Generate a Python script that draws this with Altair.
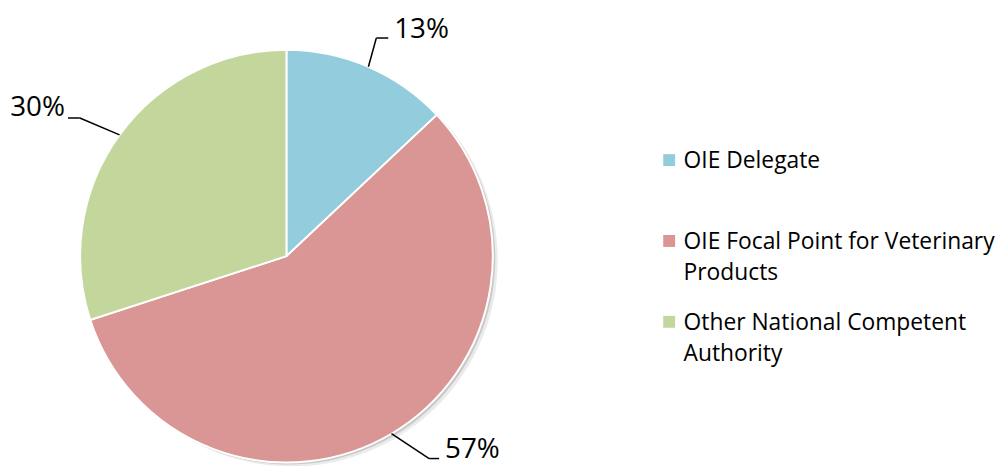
import altair as alt
import pandas as pd

categories = ["OIE Delegate", "OIE Focal Point for Veterinary Products", "Other National Competent Authority"]
shares = [13, 57, 30]
legend_lines = [["OIE Delegate", " "], ["OIE Focal Point for Veterinary", "Products"], ["Other National Competent", "Authority"]]
colors = ["#93CDDD", "#D99694", "#C3D69B"]

df = pd.DataFrame({"idx": list(range(len(categories))), "category": categories, "share": shares})

W, H = 999, 458
CX, CY, R = 280.7, 248.3, 208

# leader-line / label layout per slice (relative to slice's edge point)
elb_x = [8, 38, -40]
elb_y = [-29, 25, -17]
end_x = [20, 48, -52]
lab_x = [26, 54, -55]
lab_y = [-37, 16, -27]


def pick(vals):
    return f"datum.idx==0 ? {vals[0]} : datum.idx==1 ? {vals[1]} : {vals[2]}"


base = (
    alt.Chart(df)
    .transform_window(cum="sum(share)", sort=[alt.SortField("idx")], frame=[None, 0])
    .transform_joinaggregate(total="sum(share)")
    .transform_calculate(mid="(datum.cum - datum.share/2)/datum.total*2*PI")
    .transform_calculate(ex=f"{CX}+{R}*sin(datum.mid)", ey=f"{CY}-{R}*cos(datum.mid)")
    .transform_calculate(
        bx=f"datum.ex + ({pick(elb_x)})",
        by=f"datum.ey + ({pick(elb_y)})",
        hx=f"datum.ex + ({pick(end_x)})",
        tx=f"datum.ex + ({pick(lab_x)})",
        ty=f"datum.ey + ({pick(lab_y)})",
        lab="datum.share + '%'",
    )
)

label_expr = " : ".join(
    f"datum.label == '{c}' ? {lines!r}" for c, lines in zip(categories, legend_lines)
) + " : datum.label"

shadow1 = base.mark_arc(outerRadius=R, color="#000000", opacity=0.08).encode(
    theta=alt.Theta("share:Q", stack=True), order=alt.Order("idx:Q"),
    x=alt.value(CX + 5), y=alt.value(CY + 4))
shadow2 = base.mark_arc(outerRadius=R, color="#000000", opacity=0.14).encode(
    theta=alt.Theta("share:Q", stack=True), order=alt.Order("idx:Q"),
    x=alt.value(CX + 2.5), y=alt.value(CY + 2))

pie = base.mark_arc(outerRadius=R, stroke="white", strokeWidth=2).encode(
    theta=alt.Theta("share:Q", stack=True),
    order=alt.Order("idx:Q"),
    color=alt.Color(
        "category:N",
        scale=alt.Scale(domain=categories, range=colors),
        legend=alt.Legend(
            title=None, orient="none", legendX=655, legendY=140,
            symbolType="square", symbolSize=144, symbolStrokeWidth=0,
            labelFont="Open Sans", labelFontSize=23, labelColor="#000000",
            labelOffset=3, labelLimit=500, labelBaseline="top",
            labelExpr=label_expr, rowPadding=25.5, padding=0,
        ),
    ),
    x=alt.value(CX), y=alt.value(CY),
)

seg1 = base.mark_rule(color="black", strokeWidth=1.5).encode(
    x=alt.X("ex:Q", scale=None), y=alt.Y("ey:Q", scale=None),
    x2="bx:Q", y2="by:Q")
seg2 = base.mark_rule(color="black", strokeWidth=1.5).encode(
    x=alt.X("bx:Q", scale=None), y=alt.Y("by:Q", scale=None),
    x2="hx:Q", y2="by:Q")

txt_r = base.transform_filter("datum.tx > datum.ex").mark_text(
    align="left", baseline="middle", font="Open Sans", fontSize=28, color="black").encode(
    x=alt.X("tx:Q", scale=None), y=alt.Y("ty:Q", scale=None), text="lab:N")
txt_l = base.transform_filter("datum.tx < datum.ex").mark_text(
    align="right", baseline="middle", font="Open Sans", fontSize=28, color="black").encode(
    x=alt.X("tx:Q", scale=None), y=alt.Y("ty:Q", scale=None), text="lab:N")

chart = (
    alt.layer(shadow1, shadow2, pie, seg1, seg2, txt_r, txt_l)
    .properties(width=W, height=H, padding=0, autosize=alt.AutoSizeParams(type="none"))
    .configure(
        view=alt.ViewConfig(stroke=None),
        style={"guide-label": {"lineHeight": 31, "dy": -10}},
    )
)

chart.save("out.html", embed_options={"renderer": "svg", "actions": False})
